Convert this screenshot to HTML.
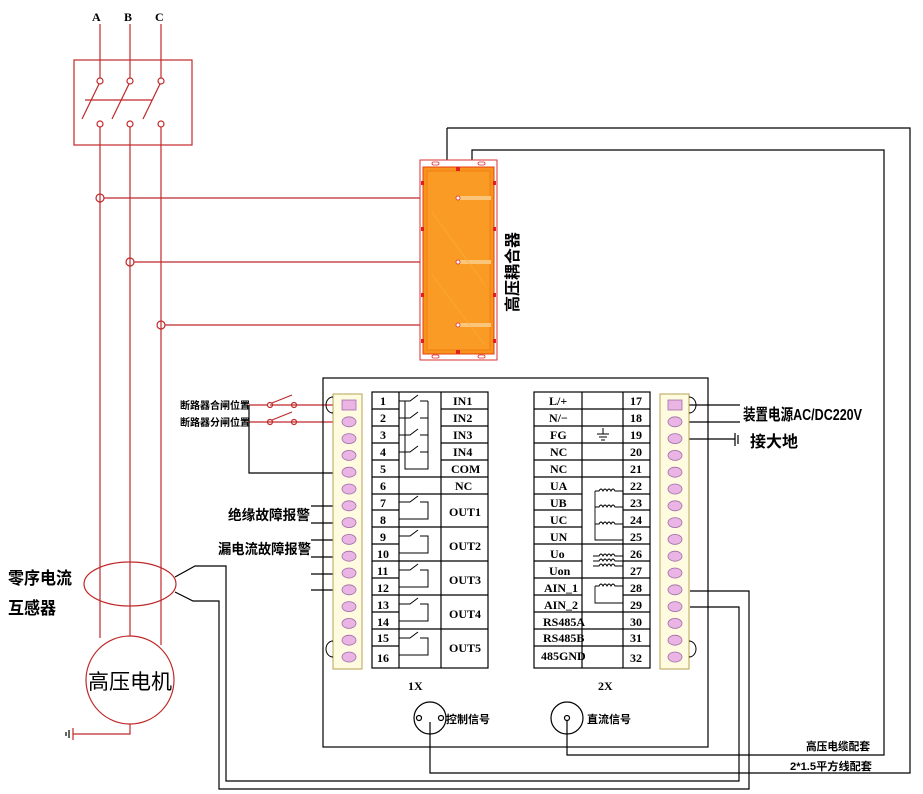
<!DOCTYPE html>
<html><head><meta charset="utf-8"><style>
html,body{margin:0;padding:0;background:#fff;}
svg{display:block;}
.t{font-family:"Liberation Serif","Noto Serif CJK SC",serif;font-weight:bold;font-size:12px;fill:#000;}
.c{font-family:"Liberation Sans","Noto Sans CJK SC",sans-serif;font-weight:bold;fill:#000;}
</style></head><body>
<svg width="923" height="794" viewBox="0 0 923 794" xmlns="http://www.w3.org/2000/svg">
<g fill="none" stroke-width="1.2">
<g stroke="#c0282a">
<line x1="100" y1="24" x2="100" y2="78"/><line x1="130" y1="24" x2="130" y2="78"/><line x1="161" y1="24" x2="161" y2="78"/>
<rect x="74" y="60" width="118" height="85"/>
<circle cx="100" cy="81" r="3"/><circle cx="130" cy="81" r="3"/><circle cx="161" cy="81" r="3"/>
<circle cx="100" cy="124" r="3"/><circle cx="130" cy="124" r="3"/><circle cx="161" cy="124" r="3"/>
<line x1="99" y1="84" x2="82" y2="119"/><line x1="129" y1="84" x2="112" y2="119"/><line x1="160" y1="84" x2="143" y2="119"/>
<line x1="85" y1="100" x2="152" y2="100"/>
<line x1="100" y1="127" x2="100" y2="638"/><line x1="130" y1="127" x2="130" y2="636"/><line x1="161" y1="127" x2="161" y2="645"/>
<circle cx="100" cy="198" r="4"/><circle cx="130" cy="262" r="4"/><circle cx="161" cy="325" r="4"/>
<line x1="104" y1="198" x2="456" y2="198"/><line x1="134" y1="262" x2="456" y2="262"/><line x1="165" y1="325" x2="456" y2="325"/>
<ellipse cx="130" cy="584" rx="46" ry="22"/>
<circle cx="130" cy="680" r="44"/>
<polyline points="130,724 130,734 73,734"/>
<line x1="73" y1="728" x2="73" y2="740"/>
<line x1="270" y1="405" x2="334" y2="405"/><line x1="249" y1="422" x2="334" y2="422"/>
<line x1="249" y1="405" x2="267" y2="405"/>
<circle cx="270" cy="405" r="2.5"/><circle cx="294" cy="405" r="2.5"/><line x1="272" y1="403" x2="292" y2="395"/>
<circle cx="270" cy="422" r="2.5"/><circle cx="294" cy="422" r="2.5"/><line x1="272" y1="420" x2="292" y2="412"/>
</g>
<line x1="69" y1="730" x2="69" y2="738" stroke="#000"/>
<line x1="66" y1="732" x2="66" y2="736" stroke="#000"/>
</g>
<g>
<line x1="447" y1="128" x2="447" y2="166" stroke="#000" stroke-width="1.2"/>
<polyline points="472,166 472,150 884,150 884,755 567,755 567,720" fill="none" stroke="#000" stroke-width="1.2"/>
<polyline points="447,128 910,128 910,773 430,773 430,722" fill="none" stroke="#000" stroke-width="1.2"/>
<rect x="420" y="160" width="77" height="200" fill="#fff" stroke="#d83030"/>
<rect x="423" y="167" width="71" height="187" fill="#f7941d" stroke="#e84010"/>
<rect x="427" y="171" width="63" height="179" fill="#f99b24" stroke="#f07010" stroke-width="0.6"/>
<rect x="460" y="196" width="31" height="4" fill="#fbc67a"/>
<rect x="460" y="260" width="31" height="4" fill="#fbc67a"/>
<rect x="460" y="323" width="31" height="4" fill="#fbc67a"/>
<line x1="432" y1="212" x2="485" y2="285" stroke="#fbb040" stroke-width="0.6"/>
<line x1="432" y1="275" x2="485" y2="345" stroke="#fbb040" stroke-width="0.6"/>
<g fill="#e02020"><rect x="456" y="167" width="4" height="4"/><rect x="456" y="350" width="4" height="4"/>
<rect x="421" y="181" width="3" height="4"/><rect x="421" y="227" width="3" height="4"/><rect x="421" y="293" width="3" height="4"/><rect x="421" y="339" width="3" height="4"/>
<rect x="493" y="181" width="3" height="4"/><rect x="493" y="227" width="3" height="4"/><rect x="493" y="293" width="3" height="4"/><rect x="493" y="339" width="3" height="4"/></g>
<g fill="#fff" stroke="#d83030" stroke-width="0.8"><rect x="432" y="162" width="7" height="3" rx="1.5"/><rect x="478" y="162" width="7" height="3" rx="1.5"/><rect x="432" y="355" width="7" height="3" rx="1.5"/><rect x="478" y="355" width="7" height="3" rx="1.5"/>
<circle cx="458" cy="198" r="2"/><circle cx="458" cy="262" r="2"/><circle cx="458" cy="325" r="2"/></g>
<text class="c" font-size="16" transform="translate(518,312) rotate(-90)">高压耦合器</text>
</g>
<rect x="323" y="378" width="385" height="369" fill="none" stroke="#000" stroke-width="1.2"/>
<g fill="none" stroke="#000" stroke-width="1.2">
<polyline points="175,577 195,566 226,566 226,781 739,781 739,607 690,607"/>
<polyline points="175,592 193,601 219,601 219,789 749,789 749,591 690,591"/>
<polyline points="249,405 249,473 334,473"/>
<line x1="311" y1="506" x2="334" y2="506"/><line x1="311" y1="523" x2="334" y2="523"/>
<line x1="311" y1="540" x2="334" y2="540"/><line x1="311" y1="557" x2="334" y2="557"/>
<line x1="311" y1="574" x2="334" y2="574"/><line x1="311" y1="590" x2="334" y2="590"/>
<line x1="688" y1="405" x2="740" y2="405"/><line x1="688" y1="422" x2="740" y2="422"/><line x1="688" y1="439" x2="735" y2="439"/>
<line x1="735" y1="433" x2="735" y2="446"/><line x1="738" y1="435" x2="738" y2="444"/>
<circle cx="430" cy="718" r="16"/><circle cx="567" cy="718" r="16"/>
<circle cx="419" cy="718" r="2.5"/><circle cx="441" cy="718" r="2.5"/><circle cx="567" cy="718" r="2.5"/>
</g>
<g>
<rect x="333" y="394" width="29" height="275" fill="#fffbe0" stroke="#b8a050"/>
<rect x="660" y="394" width="29" height="275" fill="#fffbe0" stroke="#b8a050"/>
<path d="M333,397 a7,8 0 0 0 0,16 M333,641 a7,8 0 0 0 0,16 M689,397 a7,8 0 0 1 0,16 M689,641 a7,8 0 0 1 0,16" fill="none" stroke="#000"/>
<g fill="#eab4e4" stroke="#a070a8" stroke-width="0.8">
<rect x="342" y="400" width="14" height="10"/><rect x="668" y="400" width="14" height="10"/>
<ellipse cx="349" cy="421.8" rx="7" ry="5"/><ellipse cx="349" cy="438.6" rx="7" ry="5"/><ellipse cx="349" cy="455.4" rx="7" ry="5"/><ellipse cx="349" cy="472.2" rx="7" ry="5"/><ellipse cx="349" cy="489" rx="7" ry="5"/><ellipse cx="349" cy="505.8" rx="7" ry="5"/><ellipse cx="349" cy="522.6" rx="7" ry="5"/><ellipse cx="349" cy="539.4" rx="7" ry="5"/><ellipse cx="349" cy="556.2" rx="7" ry="5"/><ellipse cx="349" cy="573" rx="7" ry="5"/><ellipse cx="349" cy="589.8" rx="7" ry="5"/><ellipse cx="349" cy="606.6" rx="7" ry="5"/><ellipse cx="349" cy="623.4" rx="7" ry="5"/><ellipse cx="349" cy="640.2" rx="7" ry="5"/><ellipse cx="349" cy="657" rx="7" ry="5"/>
<ellipse cx="675" cy="421.8" rx="7" ry="5"/><ellipse cx="675" cy="438.6" rx="7" ry="5"/><ellipse cx="675" cy="455.4" rx="7" ry="5"/><ellipse cx="675" cy="472.2" rx="7" ry="5"/><ellipse cx="675" cy="489" rx="7" ry="5"/><ellipse cx="675" cy="505.8" rx="7" ry="5"/><ellipse cx="675" cy="522.6" rx="7" ry="5"/><ellipse cx="675" cy="539.4" rx="7" ry="5"/><ellipse cx="675" cy="556.2" rx="7" ry="5"/><ellipse cx="675" cy="573" rx="7" ry="5"/><ellipse cx="675" cy="589.8" rx="7" ry="5"/><ellipse cx="675" cy="606.6" rx="7" ry="5"/><ellipse cx="675" cy="623.4" rx="7" ry="5"/><ellipse cx="675" cy="640.2" rx="7" ry="5"/><ellipse cx="675" cy="657" rx="7" ry="5"/>
</g>
</g>
<g fill="none" stroke="#000" stroke-width="1.2">
<rect x="372" y="392" width="116" height="276"/>
<line x1="399" y1="392" x2="399" y2="668"/><line x1="441" y1="392" x2="441" y2="668"/>
<path d="M372,409 H399 M441,409 H488 M372,426 H399 M441,426 H488 M372,443 H399 M441,443 H488 M372,460 H399 M441,460 H488 M372,477 H488 M372,494 H488 M372,510 H399 M372,527 H488 M372,544 H399 M372,561 H488 M372,578 H399 M372,595 H488 M372,612 H399 M372,629 H488 M372,646 H399"/>
<path d="M399,401 H410 L418,395 M420,401 H428 M399,418 H410 L418,412 M420,418 H428 M399,435 H410 L418,429 M420,435 H428 M399,452 H410 L418,446 M420,452 H428 M428,401 V469 H405 V401" stroke-width="1"/>
<path d="M399,502 H410 L418,496 M420,502 H428 V519 H399 M399,536 H410 L418,530 M420,536 H428 V553 H399 M399,570 H410 L418,564 M420,570 H428 V587 H399 M399,604 H410 L418,598 M420,604 H428 V621 H399 M399,638 H410 L418,632 M420,638 H428 V655 H399" stroke-width="1"/>
</g>
<g class="t">
<text x="380" y="405">1</text><text x="380" y="422">2</text><text x="380" y="439">3</text><text x="380" y="456">4</text><text x="380" y="473">5</text><text x="380" y="490">6</text><text x="380" y="507">7</text><text x="380" y="524">8</text><text x="380" y="541">9</text><text x="377" y="558">10</text><text x="377" y="575">11</text><text x="377" y="592">12</text><text x="377" y="609">13</text><text x="377" y="626">14</text><text x="377" y="642">15</text><text x="377" y="662">16</text>
<text x="453" y="405">IN1</text><text x="453" y="422">IN2</text><text x="453" y="439">IN3</text><text x="453" y="456">IN4</text><text x="451" y="473">COM</text><text x="455" y="490">NC</text>
<text x="449" y="516">OUT1</text><text x="449" y="550">OUT2</text><text x="449" y="584">OUT3</text><text x="449" y="618">OUT4</text><text x="449" y="652">OUT5</text>
<text x="408" y="690">1X</text><text x="598" y="690">2X</text>
</g>
<g fill="none" stroke="#000" stroke-width="1.2">
<rect x="534" y="392" width="116" height="276"/>
<line x1="582" y1="392" x2="582" y2="668"/><line x1="623" y1="392" x2="623" y2="668"/>
<path d="M534,409 H650 M534,426 H650 M534,443 H650 M534,460 H650 M534,477 H650 M534,494 H582 M623,494 H650 M534,510 H582 M623,510 H650 M534,527 H582 M623,527 H650 M534,544 H650 M534,561 H582 M623,561 H650 M534,578 H650 M534,595 H582 M623,595 H650 M534,612 H650 M534,629 H650 M534,646 H650"/>
<path d="M597,434 H609 M599,437 H607 M601,440 H605 M603,428 V434" stroke-width="1"/>
<path d="M595,491 V540 H623 M595,491 H599 q2,-4 4,0 q2,-4 4,0 q2,-4 4,0 q2,-4 4,0 H623 M595,507 H599 q2,-4 4,0 q2,-4 4,0 q2,-4 4,0 q2,-4 4,0 H623 M595,524 H599 q2,-4 4,0 q2,-4 4,0 q2,-4 4,0 q2,-4 4,0 H623" stroke-width="0.9"/>
<path d="M593,556 H599 q2,-4 4,0 q2,-4 4,0 q2,-4 4,0 q2,-4 4,0 H623 M593,561 H599 q2,-4 4,0 q2,-4 4,0 q2,-4 4,0 q2,-4 4,0 H623 M593,566 H599 q2,-4 4,0 q2,-4 4,0 q2,-4 4,0 q2,-4 4,0 H623" stroke-width="0.9"/>
<path d="M595,586 V603 H623 M595,586 H599 q2,-4 4,0 q2,-4 4,0 q2,-4 4,0 q2,-4 4,0 H623" stroke-width="0.9"/>
</g>
<g class="t">
<text x="549" y="405">L/+</text><text x="549" y="422">N/−</text><text x="550" y="439">FG</text><text x="550" y="456">NC</text><text x="550" y="473">NC</text><text x="550" y="490">UA</text><text x="550" y="507">UB</text><text x="550" y="524">UC</text><text x="550" y="541">UN</text><text x="550" y="558">Uo</text><text x="549" y="575">Uon</text><text x="544" y="592">AIN_1</text><text x="544" y="609">AIN_2</text><text x="543" y="626">RS485A</text><text x="543" y="642">RS485B</text><text x="541" y="660">485GND</text>
<text x="630" y="405">17</text><text x="630" y="422">18</text><text x="630" y="439">19</text><text x="630" y="456">20</text><text x="630" y="473">21</text><text x="630" y="490">22</text><text x="630" y="507">23</text><text x="630" y="524">24</text><text x="630" y="541">25</text><text x="630" y="558">26</text><text x="630" y="575">27</text><text x="630" y="592">28</text><text x="630" y="609">29</text><text x="630" y="626">30</text><text x="630" y="642">31</text><text x="630" y="662">32</text>
</g>
<g class="c">
<text x="92" y="21" font-size="11" class="t">A</text><text x="124" y="21" font-size="11" class="t">B</text><text x="155" y="21" font-size="11" class="t">C</text>
<text x="180" y="409" font-size="10">断路器合闸位置</text>
<text x="180" y="426" font-size="10">断路器分闸位置</text>
<text x="228" y="520" font-size="14" textLength="82" lengthAdjust="spacingAndGlyphs">绝缘故障报警</text>
<text x="218" y="554" font-size="14" textLength="93" lengthAdjust="spacingAndGlyphs">漏电流故障报警</text>
<text x="8" y="584" font-size="17" textLength="64" lengthAdjust="spacingAndGlyphs">零序电流</text>
<text x="8" y="614" font-size="17" textLength="48" lengthAdjust="spacingAndGlyphs">互感器</text>
<text x="88" y="689" font-size="21" font-weight="normal">高压电机</text>
<text x="743" y="420" font-size="16" textLength="119" lengthAdjust="spacingAndGlyphs">装置电源AC/DC220V</text>
<text x="750" y="447" font-size="16">接大地</text>
<text x="446" y="723" font-size="11">控制信号</text>
<text x="587" y="723" font-size="11">直流信号</text>
<text x="806" y="750" font-size="11" textLength="64" lengthAdjust="spacingAndGlyphs">高压电缆配套</text>
<text x="790" y="770" font-size="11" textLength="82" lengthAdjust="spacingAndGlyphs">2*1.5平方线配套</text>
</g>
</svg>
</body></html>
